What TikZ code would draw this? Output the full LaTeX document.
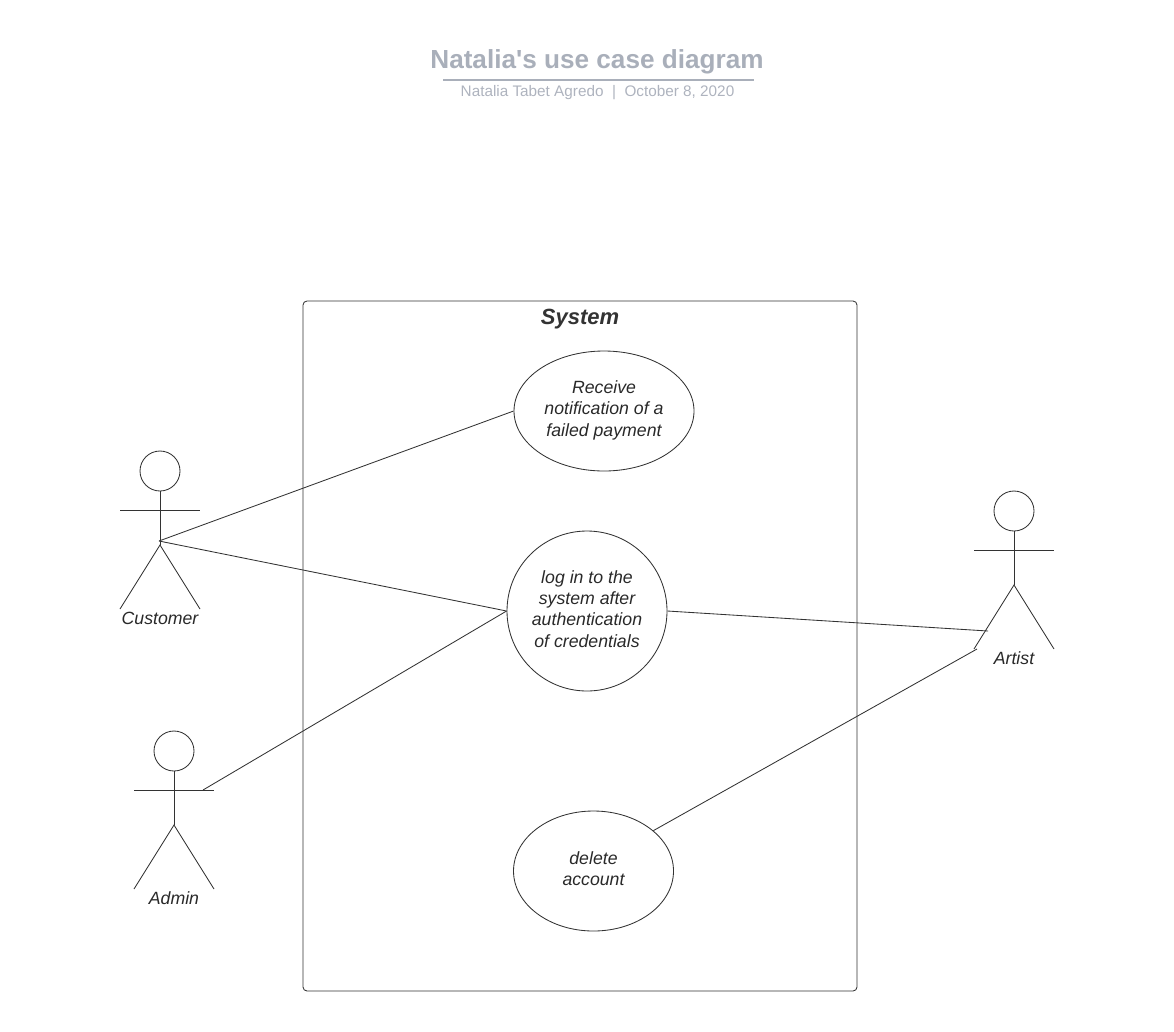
\documentclass[tikz,border=0pt]{standalone}
\usepackage{fontspec}
\setmainfont{Liberation Sans}
\usetikzlibrary{shapes.geometric}
\definecolor{titlegray}{HTML}{A9AFBA}
\definecolor{subgray}{HTML}{AEB3BE}
\definecolor{inkgray}{HTML}{333333}
\tikzset{
  line/.style={draw=inkgray, line width=0.85pt},
  usecase/.style={ellipse, line, inner sep=0pt, align=center, font=\fontsize{17.7}{21.3}\selectfont\itshape, text=inkgray!80!black},
  actorname/.style={font=\fontsize{17.7}{21}\selectfont\itshape, text=inkgray!80!black, inner sep=0pt},
  head/.style={circle, line, minimum size=40pt, inner sep=0pt},
}
\begin{document}
\begin{tikzpicture}[x=1pt,y=-1pt]
\useasboundingbox (0,0) rectangle (1174,1031);
% title
\node [font=\fontsize{26.15}{30}\selectfont\bfseries, text=titlegray, inner sep=0pt] (title) at (597,62) {Natalia\textquotesingle s use case diagram};
\coordinate (ruleL) at (443,80);
\coordinate (ruleR) at (754,80);
\draw [titlegray, line width=1.4pt] (ruleL) -- (ruleR);
\node [font=\fontsize{15.3}{18}\selectfont, text=subgray, inner sep=0pt] (byline) at (597.5,93) {Natalia Tabet Agredo~~|~~October 8, 2020};
% system
\node [line, rounded corners=4pt, minimum width=554pt, minimum height=690pt, inner sep=0pt] (system) at (580,646) {};
\node [font=\fontsize{22}{26}\selectfont\bfseries\itshape, text=inkgray, inner sep=0pt] (systemname) at (580,319) {System};
% use cases
\node [usecase, minimum width=180pt, minimum height=120pt] (failed) at (604,411) {Receive\\notification of a\\failed payment\\[-16pt]};
\node [usecase, minimum width=160pt, minimum height=160pt] (login) at (587,611) {log in to the\\system after\\authentication\\of credentials\\[-17pt]};
\node [usecase, minimum width=160pt, minimum height=120pt] (delete) at (593.5,871) {delete\\account\\[-16pt]};
% customer
\node [head] (custhead) at (160,471) {};
\coordinate (custhip) at (160,545);
\coordinate (custfoot1) at (120,609);
\coordinate (custfoot2) at (200,609);
\coordinate (custarm1) at (120,510);
\coordinate (custarm2) at (200,510);
\coordinate (custlink) at (159,541);
\draw [line] (custhead) -- (custhip);
\draw [line] (custarm1) -- (custarm2);
\draw [line] (custfoot1) -- (custhip) -- (custfoot2);
\node [actorname] (custname) at (160,618) {Customer};
% admin
\node [head] (adminhead) at (174,751) {};
\coordinate (adminhip) at (174,825);
\coordinate (adminfoot1) at (134,889);
\coordinate (adminfoot2) at (214,889);
\coordinate (adminarm1) at (134,790);
\coordinate (adminarm2) at (214,790);
\coordinate (adminlink) at (203,790);
\draw [line] (adminhead) -- (adminhip);
\draw [line] (adminarm1) -- (adminarm2);
\draw [line] (adminfoot1) -- (adminhip) -- (adminfoot2);
\node [actorname] (adminname) at (174,898) {Admin};
% artist
\node [head] (artisthead) at (1014,511) {};
\coordinate (artisthip) at (1014,585);
\coordinate (artistfoot1) at (974,649);
\coordinate (artistfoot2) at (1054,649);
\coordinate (artistarm1) at (974,550);
\coordinate (artistarm2) at (1054,550);
\coordinate (artistlink1) at (988,631);
\coordinate (artistlink2) at (977,649);
\draw [line] (artisthead) -- (artisthip);
\draw [line] (artistarm1) -- (artistarm2);
\draw [line] (artistfoot1) -- (artisthip) -- (artistfoot2);
\node [actorname] (artistname) at (1014,658) {Artist};
% links
\draw [line] (custlink) -- (failed.west);
\draw [line] (custlink) -- (login.west);
\draw [line] (adminlink) -- (login.west);
\draw [line] (login.east) -- (artistlink1);
\draw [line] (delete.34) -- (artistlink2);
\end{tikzpicture}
\end{document}
